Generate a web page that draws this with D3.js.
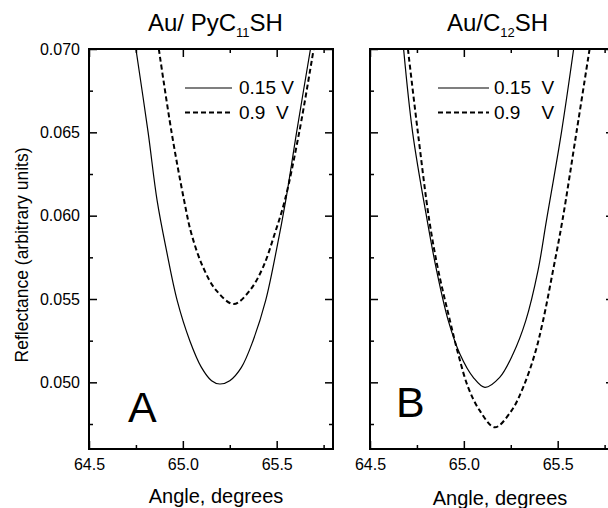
<!DOCTYPE html>
<html>
<head>
<meta charset="utf-8">
<script src="https://cdn.jsdelivr.net/npm/d3@7"></script>
<style>
body {margin:0; background:#fff;}
svg {display:block; font-family:"Liberation Sans", Arial, Helvetica, sans-serif;}
.axis line {stroke:#000; stroke-width:1.5;}
.axis text {fill:#000; font-size:16px;}
</style>
</head>
<body>
<svg id=chart width=608 height=508></svg>
<script>

// axis ranges and ticks (shared by both panels)
var x_domain=[64.5,65.8];
var y_domain=[0.046,0.070];
var x_major=[64.5,65.0,65.5];
var x_minor=[64.75,65.25,65.75];
var y_major=[0.050,0.055,0.060,0.065,0.070];
var y_minor=[0.0475,0.0525,0.0575,0.0625,0.0675];

// panel A: Au/ PyC11SH
var angle_A_015=[64.75,64.815,64.863,64.913,64.97,65.037,65.099,65.153,65.197,65.25,65.312,65.374,65.441,65.498,65.548,65.606,65.68];
var refl_A_015=[0.0700,0.0650,0.0609,0.0579,0.0549,0.0525,0.0509,0.0501,0.0499,0.0501,0.0509,0.0525,0.0549,0.0579,0.0609,0.0650,0.0700];
var angle_A_090=[64.872,64.94,65.007,65.046,65.108,65.179,65.271,65.356,65.427,65.489,65.543,65.62,65.697];
var refl_A_090=[0.0700,0.0650,0.0609,0.0589,0.0569,0.0555,0.0547,0.0555,0.0569,0.0589,0.0609,0.0650,0.0700];

// panel B: Au/C12SH
var angle_B_015=[64.679,64.727,64.805,64.855,64.917,64.979,65.05,65.112,65.191,65.262,65.33,65.395,65.44,65.52,65.585];
var refl_B_015=[0.0700,0.0650,0.0597,0.0567,0.0537,0.0517,0.0503,0.0497,0.0503,0.0517,0.0537,0.0567,0.0597,0.0650,0.0700];
var angle_B_090=[64.702,64.755,64.816,64.864,64.926,64.97,65.023,65.085,65.165,65.254,65.316,65.378,65.422,65.475,65.525,65.60,65.67];
var refl_B_090=[0.0700,0.0650,0.0597,0.0567,0.0537,0.0517,0.0497,0.0483,0.0473,0.0483,0.0497,0.0517,0.0537,0.0567,0.0597,0.0650,0.0700];

var svg=d3.select('#chart');
svg.append('rect').attr('width',608).attr('height',508).attr('fill','#fff');

var plot_top=49;
var plot_bottom=449;
var plot_W=244;

function zip(xs,ys) {
	var ret=[];
	for (var i=0; i<xs.length; i++) ret.push({x:xs[i],y:ys[i]});
	return ret;
}

function draw_panel(opts) {
	var left=opts.left;
	var xScale=d3.scaleLinear().domain(x_domain).range([left,left+plot_W]);
	var yScale=d3.scaleLinear().domain(y_domain).range([plot_bottom,plot_top]);
	var g=svg.append('g');

	var clip_id='clip_'+opts.id;
	svg.append('clipPath').attr('id',clip_id)
		.append('rect')
		.attr('x',left).attr('y',plot_top)
		.attr('width',plot_W).attr('height',plot_bottom-plot_top);

	function add_axis(axis,transform) {
		var a=g.append('g').attr('class','axis')
			.attr('transform',transform)
			.call(axis);
		a.select('.domain').remove();
		return a;
	}

	// bottom
	add_axis(d3.axisBottom(xScale).tickValues(x_major).tickSizeInner(-8).tickSizeOuter(0)
		.tickPadding(9.5).tickFormat(d3.format('.1f')),'translate(0,'+plot_bottom+')');
	add_axis(d3.axisBottom(xScale).tickValues(x_minor).tickSizeInner(-4).tickSizeOuter(0)
		.tickFormat(''),'translate(0,'+plot_bottom+')');
	// top
	add_axis(d3.axisTop(xScale).tickValues(x_major).tickSizeInner(-8).tickSizeOuter(0)
		.tickFormat(''),'translate(0,'+plot_top+')');
	add_axis(d3.axisTop(xScale).tickValues(x_minor).tickSizeInner(-4).tickSizeOuter(0)
		.tickFormat(''),'translate(0,'+plot_top+')');
	// left
	var yfmt=opts.ylabels ? d3.format('.3f') : function() {return '';};
	add_axis(d3.axisLeft(yScale).tickValues(y_major).tickSizeInner(-8).tickSizeOuter(0)
		.tickPadding(9).tickFormat(yfmt),'translate('+left+',0)');
	add_axis(d3.axisLeft(yScale).tickValues(y_minor).tickSizeInner(-4).tickSizeOuter(0)
		.tickFormat(''),'translate('+left+',0)');
	// right
	add_axis(d3.axisRight(yScale).tickValues(y_major).tickSizeInner(-8).tickSizeOuter(0)
		.tickFormat(''),'translate('+(left+plot_W)+',0)');
	add_axis(d3.axisRight(yScale).tickValues(y_minor).tickSizeInner(-4).tickSizeOuter(0)
		.tickFormat(''),'translate('+(left+plot_W)+',0)');

	// frame
	g.append('rect')
		.attr('x',left).attr('y',plot_top)
		.attr('width',plot_W).attr('height',plot_bottom-plot_top)
		.attr('fill','none').attr('stroke','#000').attr('stroke-width',2);

	var line=d3.line()
		.x(function(d) {return xScale(d.x);})
		.y(function(d) {return yScale(d.y);})
		.curve(d3.curveCatmullRom.alpha(0.5));

	var curves=g.append('g').attr('clip-path','url(#'+clip_id+')');
	curves.append('path').datum(opts.solid)
		.attr('d',line).attr('fill','none')
		.attr('stroke','#000').attr('stroke-width',1.2);
	curves.append('path').datum(opts.dashed)
		.attr('d',line).attr('fill','none')
		.attr('stroke','#000').attr('stroke-width',2)
		.attr('stroke-dasharray','5,3');

	// legend
	var lg=g.append('g');
	lg.append('line')
		.attr('x1',opts.leg_x1).attr('x2',opts.leg_x2)
		.attr('y1',88).attr('y2',88)
		.attr('stroke','#000').attr('stroke-width',1.2);
	lg.append('line')
		.attr('x1',opts.leg_x1).attr('x2',opts.leg_x2)
		.attr('y1',112.5).attr('y2',112.5)
		.attr('stroke','#000').attr('stroke-width',2)
		.attr('stroke-dasharray','5,3');
	lg.append('text').attr('x',opts.leg_x2+opts.leg_gap).attr('y',94)
		.style('font-size','19px').style('white-space','pre')
		.text(opts.leg_text[0]);
	lg.append('text').attr('x',opts.leg_x2+opts.leg_gap).attr('y',119)
		.style('font-size','19px').style('white-space','pre')
		.text(opts.leg_text[1]);

	// title with subscript
	var t=g.append('text').attr('x',opts.title_x).attr('y',31)
		.style('font-size','24px');
	t.append('tspan').text(opts.title[0]);
	t.append('tspan').attr('dy',6).style('font-size','13px').text(opts.title[1]);
	t.append('tspan').attr('dy',-6).text(opts.title[2]);

	// panel letter
	g.append('text').attr('x',opts.letter_x).attr('y',opts.letter_y)
		.style('font-size','43px').text(opts.letter);

	// x label
	g.append('text').attr('x',opts.xlabel_x).attr('y',opts.xlabel_y)
		.attr('text-anchor','middle').style('font-size','20px')
		.text('Angle, degrees');
}

draw_panel({
	id:'A', left:89, ylabels:true,
	solid:zip(angle_A_015,refl_A_015),
	dashed:zip(angle_A_090,refl_A_090),
	leg_x1:185, leg_x2:232, leg_gap:7,
	leg_text:['0.15 V','0.9  V'],
	title_x:148, title:['Au/ PyC','11','SH'],
	letter:'A', letter_x:128, letter_y:422,
	xlabel_x:216, xlabel_y:503
});

draw_panel({
	id:'B', left:370, ylabels:false,
	solid:zip(angle_B_015,refl_B_015),
	dashed:zip(angle_B_090,refl_B_090),
	leg_x1:438, leg_x2:489, leg_gap:5,
	leg_text:['0.15  V','0.9    V'],
	title_x:447, title:['Au/C','12','SH'],
	letter:'B', letter_x:396, letter_y:417,
	xlabel_x:500, xlabel_y:505
});

// y axis label
svg.append('text')
	.attr('transform','translate(28,255) rotate(-90)')
	.attr('text-anchor','middle')
	.style('font-size','17.5px')
	.text('Reflectance (arbitrary units)');

</script>
</body>
</html>
